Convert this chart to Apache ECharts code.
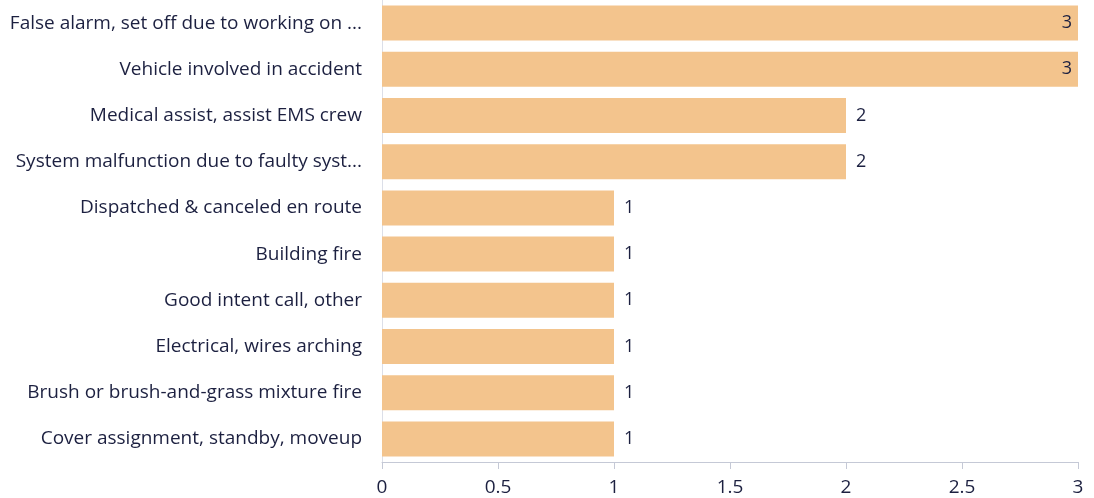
<!DOCTYPE html>
<html><head><meta charset="utf-8">
<script src="https://cdn.jsdelivr.net/npm/echarts@6/dist/echarts.min.js"></script>
<style>html,body{margin:0;padding:0;background:#fff}#c{width:1094px;height:498px}</style>
</head><body><div id="c"></div>
<script>
const categories = [
  "False alarm, set off due to working on ...",
  "Vehicle involved in accident",
  "Medical assist, assist EMS crew",
  "System malfunction due to faulty syst...",
  "Dispatched & canceled en route",
  "Building fire",
  "Good intent call, other",
  "Electrical, wires arching",
  "Brush or brush-and-grass mixture fire",
  "Cover assignment, standby, moveup"
];
const values = [3, 3, 2, 2, 1, 1, 1, 1, 1, 1];
const xTicks = [0, 0.5, 1, 1.5, 2, 2.5, 3];

const font = "'Open Sans', 'Noto Sans', sans-serif";
const textColor = "#1c2040";
const chart = echarts.init(document.getElementById('c'));
chart.setOption({
  animation: false,
  grid: {left: 382, right: 16, top: -2, bottom: 36, containLabel: false},
  xAxis: {
    type: 'value', min: 0, max: 3, interval: 0.5,
    axisLine: {show: true, lineStyle: {color: '#c5c9d6', width: 1}},
    axisTick: {show: true, length: 7, lineStyle: {color: '#c5c9d6'}},
    splitLine: {show: false},
    axisLabel: {color: textColor, fontSize: 19, fontFamily: font, margin: 16,
      formatter: v => String(v)}
  },
  yAxis: {
    type: 'category', data: categories, inverse: true,
    axisLine: {show: true, lineStyle: {color: '#dcdfe8'}},
    axisTick: {show: false},
    axisLabel: {color: textColor, fontSize: 19, fontFamily: font, margin: 20}
  },
  series: [{
    type: 'bar',
    data: values.map(v => ({
      value: v,
      label: v >= 3 ? {position: 'insideRight', distance: 6} : {position: 'right', distance: 10}
    })),
    barWidth: 35,
    itemStyle: {color: '#F3C48D'},
    label: {show: true, color: textColor, fontSize: 18, fontFamily: font}
  }]
});
</script></body></html>
